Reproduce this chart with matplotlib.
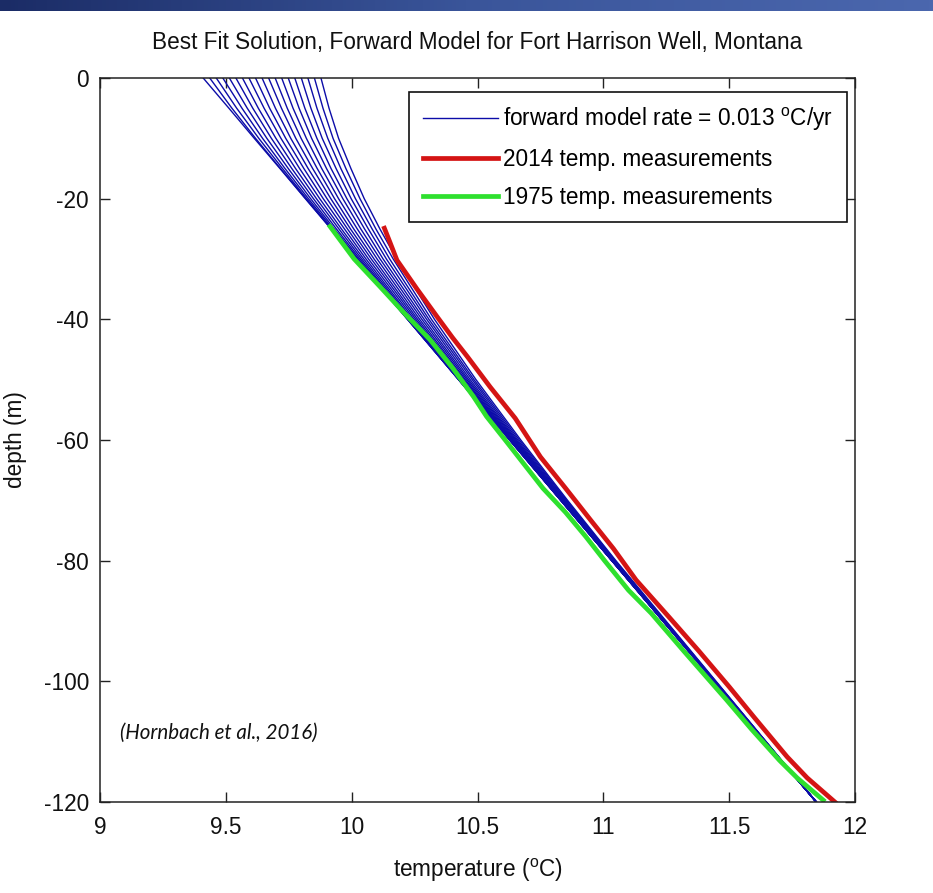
import numpy as np
import matplotlib
matplotlib.use("Agg")
import matplotlib.pyplot as plt
from matplotlib.colors import LinearSegmentedColormap

plt.rcParams["font.family"] = ["Liberation Sans", "DejaVu Sans"]
plt.rcParams["mathtext.fontset"] = "custom"
plt.rcParams["mathtext.rm"] = "Liberation Sans"
plt.rcParams["mathtext.it"] = "Liberation Sans:italic"
plt.rcParams["axes.unicode_minus"] = False

# depths of the forward model profiles (m)
model_depth = [0, -5, -10, -15, -20, -25, -30, -40, -50, -60, -70, -80, -120]
# undisturbed geotherm (deg C) at those depths
base_temp = [9.410, 9.512, 9.613, 9.715, 9.816, 9.918, 10.019, 10.222,
             10.425, 10.628, 10.831, 11.034, 11.846]
# warming above the geotherm for each forward-model profile (every 2 yr)
model_excess = [
    [0.000, 0.000, 0.000, 0.000, 0.000, 0.000, 0.000, 0.000, 0.000, 0.000, 0.000, 0.000, 0],
    [0.026, 0.012, 0.005, 0.002, 0.001, 0.000, 0.000, 0.000, 0.000, 0.000, 0.000, 0.000, 0],
    [0.052, 0.031, 0.018, 0.010, 0.005, 0.002, 0.001, 0.000, 0.000, 0.000, 0.000, 0.000, 0],
    [0.078, 0.052, 0.033, 0.020, 0.012, 0.007, 0.004, 0.001, 0.000, 0.000, 0.000, 0.000, 0],
    [0.104, 0.073, 0.050, 0.033, 0.021, 0.013, 0.008, 0.003, 0.001, 0.000, 0.000, 0.000, 0],
    [0.130, 0.095, 0.068, 0.047, 0.032, 0.021, 0.014, 0.006, 0.002, 0.001, 0.000, 0.000, 0],
    [0.156, 0.117, 0.086, 0.062, 0.044, 0.031, 0.021, 0.009, 0.004, 0.001, 0.000, 0.000, 0],
    [0.182, 0.140, 0.106, 0.078, 0.057, 0.041, 0.029, 0.014, 0.006, 0.003, 0.001, 0.000, 0],
    [0.208, 0.162, 0.125, 0.095, 0.071, 0.053, 0.038, 0.019, 0.009, 0.004, 0.002, 0.001, 0],
    [0.234, 0.185, 0.145, 0.112, 0.086, 0.065, 0.048, 0.026, 0.013, 0.006, 0.003, 0.001, 0],
    [0.260, 0.209, 0.165, 0.130, 0.101, 0.077, 0.059, 0.033, 0.017, 0.009, 0.004, 0.002, 0],
    [0.286, 0.232, 0.186, 0.148, 0.116, 0.090, 0.070, 0.040, 0.022, 0.012, 0.006, 0.003, 0],
    [0.312, 0.255, 0.207, 0.166, 0.132, 0.104, 0.082, 0.048, 0.027, 0.015, 0.008, 0.004, 0],
    [0.338, 0.279, 0.228, 0.185, 0.149, 0.118, 0.094, 0.057, 0.033, 0.019, 0.010, 0.005, 0],
    [0.364, 0.302, 0.249, 0.203, 0.165, 0.133, 0.106, 0.066, 0.039, 0.023, 0.013, 0.007, 0],
    [0.390, 0.326, 0.270, 0.223, 0.182, 0.148, 0.119, 0.076, 0.046, 0.027, 0.016, 0.009, 0],
    [0.416, 0.350, 0.292, 0.242, 0.199, 0.163, 0.132, 0.085, 0.054, 0.032, 0.020, 0.011, 0],
    [0.442, 0.374, 0.313, 0.262, 0.217, 0.178, 0.146, 0.095, 0.061, 0.038, 0.023, 0.013, 0],
    [0.468, 0.398, 0.335, 0.282, 0.234, 0.194, 0.160, 0.107, 0.069, 0.044, 0.027, 0.016, 0],
]

# 2014 measurements
red_depth = [-24.9, -27, -30.2, -35, -39.6, -43, -46.2, -51.2, -56.4, -62.8, -68,
             -73.3, -78, -83.2, -89.3, -95, -100.9, -106, -112.5, -116, -120]
red_temp = [10.13, 10.15, 10.18, 10.26, 10.34, 10.40, 10.46, 10.55, 10.65, 10.75, 10.85,
            10.95, 11.04, 11.13, 11.26, 11.38, 11.50, 11.60, 11.73, 11.81, 11.92]

# 1975 measurements
green_depth = [-24.6, -30, -34.6, -39, -43.4, -48, -52.8, -56.1, -60, -63.9, -68, -72,
               -76, -80, -84.9, -88.7, -95, -103.1, -108, -113.1, -116, -119.7]
green_temp = [9.914, 10.01, 10.113, 10.21, 10.312, 10.40, 10.484, 10.536, 10.61, 10.683,
              10.76, 10.85, 10.93, 11.005, 11.10, 11.19, 11.32, 11.49,
              11.59, 11.70, 11.77, 11.874]

x_ticks = [9, 9.5, 10, 10.5, 11, 11.5, 12]
y_ticks = [0, -20, -40, -60, -80, -100, -120]

W, H = 933, 893
FS = 16.3
fig = plt.figure(figsize=(W / 100, H / 100), dpi=100)

# blue banner strip at the top
band = fig.add_axes([0, 1 - 11 / H, 1, 11 / H])
cmap = LinearSegmentedColormap.from_list("band", ["#1b2c66", "#3a559a", "#4b67ae"])
band.imshow(np.linspace(0, 1, 256)[None, :], aspect="auto", cmap=cmap)
band.axis("off")

ax = fig.add_axes([100 / W, 1 - 802 / H, 755 / W, 724 / H])

model_color = "#0c0ca8"
for i, exc in enumerate(model_excess):
    temps = [b + e for b, e in zip(base_temp, exc)]
    ax.plot(temps, model_depth, color=model_color, lw=1.0,
            label="forward model rate = 0.013 $^{\\rm o}$C/yr" if i == 0 else None)

ax.plot(red_temp, red_depth, color="#d41414", lw=3.4, label="2014 temp. measurements")
ax.plot(green_temp, green_depth, color="#2ee02e", lw=3.4, label="1975 temp. measurements")

ax.set_xlim(9, 12)
ax.set_ylim(-120, 0)
ax.set_xticks(x_ticks)
ax.set_xticklabels(["9", "9.5", "10", "10.5", "11", "11.5", "12"])
ax.set_yticks(y_ticks)
ax.tick_params(direction="in", length=7, width=1.0, top=True, right=True,
               labelsize=FS, colors="#222222", labelcolor="#111111")
ax.tick_params(axis="x", pad=10)
ax.tick_params(axis="y", pad=8)
for s in ax.spines.values():
    s.set_linewidth(1.1)
    s.set_color("#222222")

ax.set_title("Best Fit Solution, Forward Model for Fort Harrison Well, Montana",
             fontsize=FS, pad=21, color="#111111")
ax.set_xlabel("temperature ($^{\\rm o}$C)", fontsize=FS, labelpad=13, color="#111111")
ax.set_ylabel("depth (m)", fontsize=FS, labelpad=12, color="#111111")

leg = ax.legend(loc="upper right", bbox_to_anchor=(0.9894, 0.9807), borderaxespad=0,
                fontsize=FS, handlelength=3.3, handletextpad=0.25, labelspacing=0.66,
                borderpad=0.6, fancybox=False, framealpha=1, edgecolor="#111111")
leg.get_frame().set_linewidth(1.2)
leg.legend_handles[0].set_linewidth(1.0)

ax.text(9.08, -108.6, "(Hornbach et al., 2016)", fontsize=14.8, style="italic",
        family=["Lato", "DejaVu Sans"], va="center", ha="left", color="#111111")

fig.savefig("out.png", dpi=100)
